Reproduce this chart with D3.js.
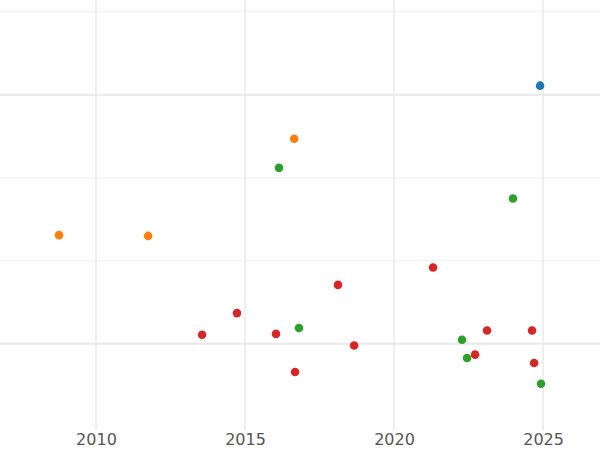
<!DOCTYPE html>
<html>
<head>
<meta charset="UTF-8">
<style>
  body { margin: 0; background: #fff; }
  text { font-family: "DejaVu Sans", sans-serif; }
</style>
</head>
<body>
<svg width="600" height="450"></svg>
<script src="https://d3js.org/d3.v7.min.js"></script>
<script>
const groups = ["blue", "orange", "green", "red"];
const colors = ["#1f77b4", "#ff7f0e", "#2ca02c", "#d62728"];
const years = [2024.90, 2016.65, 2008.76, 2011.75, 2016.14, 2023.99, 2016.81, 2022.28, 2022.45, 2024.93,
               2021.31, 2018.12, 2014.73, 2013.56, 2016.04, 2018.66, 2016.68, 2023.12, 2022.72, 2024.63, 2024.70];
const values = [3.11, 2.47, 1.31, 1.30, 2.12, 1.75, 0.19, 0.05, -0.17, -0.48,
                0.92, 0.71, 0.37, 0.11, 0.12, -0.02, -0.34, 0.16, -0.13, 0.16, -0.23];
const group = ["blue", "orange", "orange", "orange", "green", "green", "green", "green", "green", "green",
               "red", "red", "red", "red", "red", "red", "red", "red", "red", "red", "red"];
const xTicks = [2010, 2015, 2020, 2025];
const yMajor = [0, 3];
const yMinor = [1, 2, 4];

const svg = d3.select("svg");
const x = d3.scaleLinear().domain([2006.78, 2026.91]).range([0, 600]);
const y = d3.scaleLinear().domain([-1.05, 4.13]).range([431, 1]);
const color = d3.scaleOrdinal().domain(groups).range(colors);

const grid = svg.append("g");
grid.selectAll(".ym").data(yMinor).join("line")
  .attr("x1", 0).attr("x2", 600).attr("y1", d => y(d)).attr("y2", d => y(d))
  .attr("stroke", "#efefef").attr("stroke-width", 1);
grid.selectAll(".yM").data(yMajor).join("line")
  .attr("x1", 0).attr("x2", 600).attr("y1", d => y(d)).attr("y2", d => y(d))
  .attr("stroke", "#e8e8e8").attr("stroke-width", 2);
grid.selectAll(".xM").data(xTicks).join("line")
  .attr("y1", 0).attr("y2", 430).attr("x1", d => x(d)).attr("x2", d => x(d))
  .attr("stroke", "#ebebeb").attr("stroke-width", 1.6);

const ax = svg.append("g").attr("transform", "translate(0,430)")
  .call(d3.axisBottom(x).tickValues(xTicks).tickFormat(d3.format("d")).tickSize(0).tickPadding(4));
ax.select(".domain").remove();
ax.selectAll("text").attr("font-size", 16).attr("fill", "#555");

svg.append("g").selectAll("circle").data(years).join("circle")
  .attr("cx", d => x(d)).attr("cy", (d, i) => y(values[i])).attr("r", 4.3)
  .attr("fill", (d, i) => color(group[i]));
</script>
</body>
</html>
